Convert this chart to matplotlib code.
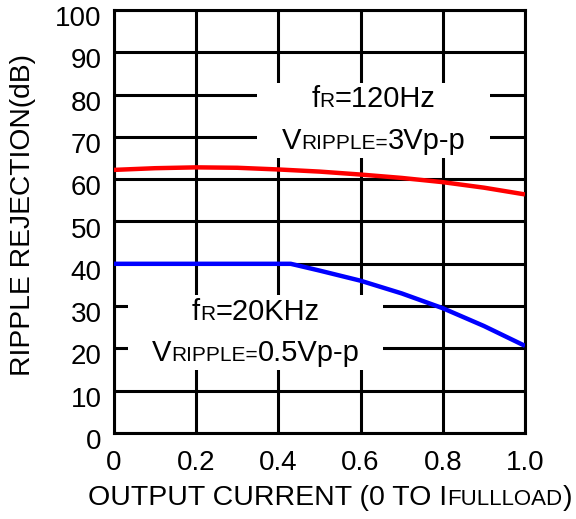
import matplotlib
matplotlib.use("Agg")
import matplotlib.pyplot as plt
from matplotlib.offsetbox import TextArea, HPacker, VPacker, AnnotationBbox
from matplotlib.patches import Rectangle
from matplotlib.transforms import ScaledTranslation

plt.rcParams["font.family"] = ["Liberation Sans", "DejaVu Sans"]

# red curve, fR = 120 Hz
x_120 = [0.0, 0.1, 0.2, 0.3, 0.4, 0.5, 0.6, 0.7, 0.8, 0.9, 1.0]
y_120 = [62.2, 62.6, 62.8, 62.7, 62.3, 61.8, 61.1, 60.3, 59.3, 58.0, 56.4]

# blue curve, fR = 20 kHz
x_20k = [0.0, 0.2, 0.43, 0.5, 0.6, 0.7, 0.8, 0.9, 1.0]
y_20k = [40.0, 40.0, 40.0, 38.4, 36.0, 33.0, 29.5, 25.3, 20.6]

x_ticks = [0, 0.2, 0.4, 0.6, 0.8, 1.0]
x_labels = ["0", "0.2", "0.4", "0.6", "0.8", "1.0"]
y_ticks = list(range(0, 101, 10))

big = 21
small = 15


def mixed(parts):
    # parts: list of (text, size)
    boxes = [TextArea(t, textprops=dict(fontsize=s, color="black")) for t, s in parts]
    return HPacker(children=boxes, align="baseline", pad=0, sep=0)


def note(ax, lines, x0, y0, x1, y1):
    # white box (axes fraction) that hides the grid, text centred in it
    ax.add_patch(Rectangle((x0, y0), x1 - x0, y1 - y0, transform=ax.transAxes,
                           facecolor="white", edgecolor="none", zorder=4))
    box = VPacker(children=[mixed(l) for l in lines], align="center", pad=0, sep=10)
    ab = AnnotationBbox(box, ((x0 + x1) / 2, (y0 + y1) / 2), xycoords="axes fraction",
                        frameon=False, pad=0, zorder=5)
    ax.add_artist(ab)


fig = plt.figure(figsize=(5.76, 5.19), dpi=100)
ax = fig.add_axes([114 / 576, 1 - 433 / 519, 411 / 576, 423 / 519])

ax.set_xlim(0, 1.0)
ax.set_ylim(0, 100)
ax.set_xticks(x_ticks)
ax.set_xticklabels(x_labels)
ax.set_yticks(y_ticks)
ax.tick_params(length=0, labelsize=20, pad=12)
ax.tick_params(axis="y", pad=9)
ax.grid(True, color="black", linewidth=2.2)
for sp in ax.spines.values():
    sp.set_linewidth(2.2)
    sp.set_color("black")

# shift y tick labels slightly down like the reference
for lab in ax.get_yticklabels():
    lab.set_transform(lab.get_transform() + ScaledTranslation(0, -6 / 100, fig.dpi_scale_trans))

ax.plot(x_120, y_120, color="#ff0000", linewidth=3.2, solid_capstyle="butt", zorder=3)
ax.plot(x_20k, y_20k, color="#0000ff", linewidth=3.2, solid_capstyle="butt", zorder=3)

note(ax, [[("f", big), ("R", small), ("=120Hz", big)],
          [("V", big), ("RIPPLE=", small), ("3Vp-p", big)]],
     0.348, 0.651, 0.915, 0.828)
note(ax, [[("f", big), ("R", small), ("=20KHz", big)],
          [("V", big), ("RIPPLE=", small), ("0.5Vp-p", big)]],
     0.034, 0.149, 0.655, 0.326)

fig.text(23 / 576, 1 - 215 / 519, "RIPPLE REJECTION(dB)", rotation=90,
         fontsize=20.3, ha="center", va="center")

xlab = mixed([("OUTPUT CURRENT (0 TO I", 20.5), ("FULLLOAD", 16), (")", 20.5)])
ab3 = AnnotationBbox(xlab, (330 / 576, 1 - 498 / 519), xycoords="figure fraction",
                     frameon=False, pad=0)
fig.add_artist(ab3)

fig.savefig("out.png", dpi=100)
